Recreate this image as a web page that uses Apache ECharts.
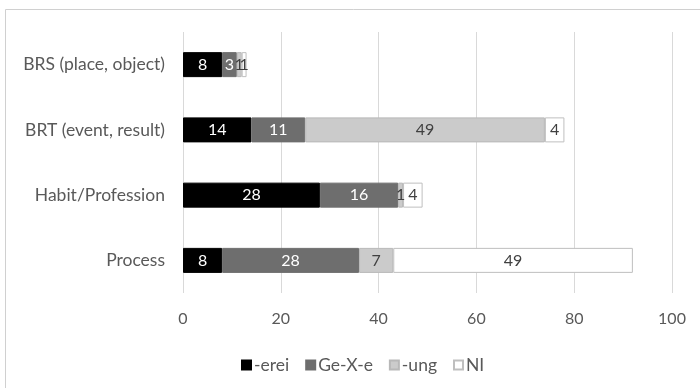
<!DOCTYPE html>
<html>
<head>
<meta charset="utf-8">
<script src="https://cdn.jsdelivr.net/npm/echarts@6/dist/echarts.min.js"></script>
<style>
  html, body { margin: 0; padding: 0; background: #fff; }
  #chart { width: 700px; height: 388px; }
</style>
</head>
<body>
<div id="chart"></div>
<script>
// Nominalisation types by construction (stacked counts)
const categories = ["Process", "Habit/Profession", "BRT (event, result)", "BRS (place, object)"];
const ereiValues = [8, 28, 14, 8];
const geXeValues = [28, 16, 11, 3];
const ungValues  = [7, 1, 49, 1];
const niValues   = [49, 4, 4, 1];
const xTicks = { min: 0, max: 100, step: 20 };

const FONT = "Lato";

function stackSeries(name, values, fill, border, textColor) {
  return {
    name: name,
    type: "bar",
    stack: "total",
    barWidth: 25,
    data: values,
    itemStyle: { color: fill, borderColor: border, borderWidth: 1 },
    label: {
      show: true,
      position: "inside",
      color: textColor,
      fontFamily: FONT,
      fontSize: 16
    },
    emphasis: { disabled: true }
  };
}

const chart = echarts.init(document.getElementById("chart"), null, { renderer: "canvas" });
chart.setOption({
  animation: false,
  backgroundColor: "#ffffff",
  graphic: [{
    type: "rect",
    shape: { x: 5.5, y: 9.5, width: 720, height: 400 },
    style: { fill: "none", stroke: "#d0d0d0", lineWidth: 1 },
    silent: true
  }],
  grid: { left: 183, right: 28, top: 32, bottom: 95 },
  legend: {
    left: 236,
    top: 351,
    itemWidth: 9,
    itemHeight: 9,
    itemGap: 16,
    icon: "rect",
    textStyle: { color: "#595959", fontFamily: FONT, fontSize: 17.5, padding: [0, 0, 0, -2] },
    data: ["-erei", "Ge-X-e", "-ung", "NI"]
  },
  xAxis: {
    type: "value",
    min: xTicks.min,
    max: xTicks.max,
    interval: xTicks.step,
    axisLine: { show: false },
    axisTick: { show: false },
    axisLabel: { color: "#595959", fontFamily: FONT, fontSize: 16, margin: 18 },
    splitLine: { show: true, lineStyle: { color: "#d9d9d9", width: 1 } }
  },
  yAxis: {
    type: "category",
    data: categories,
    axisLine: { show: false },
    axisTick: { show: false },
    axisLabel: { color: "#595959", fontFamily: FONT, fontSize: 17.5, margin: 18 }
  },
  series: [
    stackSeries("-erei", ereiValues, "#000000", "#000000", "#ffffff"),
    stackSeries("Ge-X-e", geXeValues, "#6e6e6e", "#6e6e6e", "#ffffff"),
    stackSeries("-ung", ungValues, "#cbcbcb", "#b8b8b8", "#404040"),
    stackSeries("NI", niValues, "#ffffff", "#bfbfbf", "#404040")
  ]
});
</script>
</body>
</html>
